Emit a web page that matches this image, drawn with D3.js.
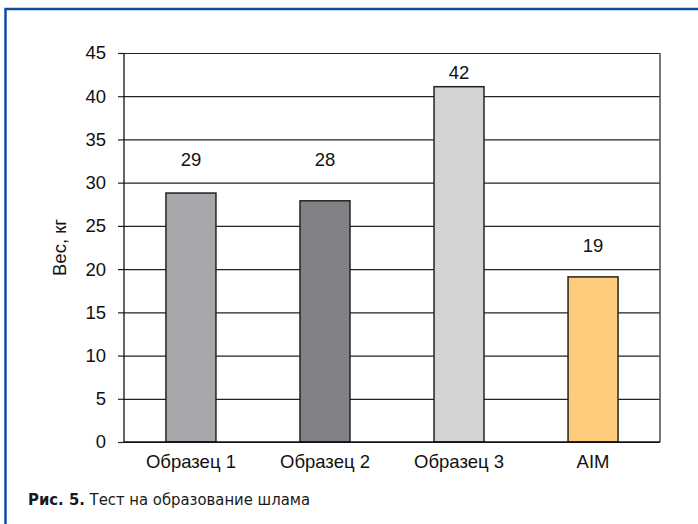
<!DOCTYPE html>
<html>
<head>
<meta charset="utf-8">
<script src="https://cdn.jsdelivr.net/npm/d3@7"></script>
<style>
  html, body { margin: 0; padding: 0; background: #fff; }
  svg { display: block; }
</style>
</head>
<body>
<div id="chart"></div>
<script>
/* bar chart: sludge formation test */
const CATEGORIES = ['Образец 1', 'Образец 2', 'Образец 3', 'AIM'];
const VALUES     = [28.8, 27.9, 41.1, 19.1];
const LABELS     = ['29', '28', '42', '19'];
const Y_TICKS    = [0, 5, 10, 15, 20, 25, 30, 35, 40, 45];
const COLORS     = ['#a7a8ab', '#808184', '#d2d3d5', '#fdcd7c'];

const W = 698, H = 524;
const M = { top: 53, right: 38, bottom: 82, left: 124 };
const FONT = "'Liberation Sans', Arial, sans-serif";
const FS   = '18.5px';

const svg = d3.select('#chart').append('svg').attr('width', W).attr('height', H);

/* frame (only top/left edges are visible in the crop) */
svg.append('rect')
  .attr('x', 5.5).attr('y', 9).attr('width', W + 20).attr('height', H + 20)
  .attr('fill', '#fff').attr('stroke', '#0b50a0').attr('stroke-width', 2.5);

const innerW = W - M.left - M.right;
const innerH = H - M.top - M.bottom;
const g = svg.append('g').attr('transform', `translate(${M.left},${M.top})`);

const x = d3.scaleBand().domain(CATEGORIES).range([0, innerW]).paddingInner(0.627).paddingOuter(0.313);
const y = d3.scaleLinear().domain([0, 45]).range([innerH, 0]);

/* gridlines */
g.append('g')
  .call(d3.axisLeft(y).tickValues(Y_TICKS).tickSize(-innerW).tickFormat(''))
  .call(ax => ax.select('.domain').remove())
  .call(ax => ax.selectAll('line').attr('stroke', '#222').attr('stroke-width', 1.2));

/* y ticks */
g.append('g')
  .call(d3.axisLeft(y).tickValues(Y_TICKS).tickSize(6).tickPadding(12))
  .call(ax => ax.select('.domain').remove())
  .call(ax => ax.selectAll('line').attr('stroke', '#222').attr('stroke-width', 1.2))
  .call(ax => ax.selectAll('text').attr('fill', '#111')
    .style('font-family', FONT).style('font-size', FS));

/* right edge */
g.append('line').attr('x1', innerW).attr('x2', innerW).attr('y1', 0).attr('y2', innerH)
  .attr('stroke', '#555').attr('stroke-width', 1.6);

/* bars */
g.selectAll('rect.bar').data(VALUES).join('rect')
  .attr('class', 'bar')
  .attr('x', (d, i) => x(CATEGORIES[i]))
  .attr('y', d => y(d))
  .attr('width', x.bandwidth())
  .attr('height', d => innerH - y(d))
  .attr('fill', (d, i) => COLORS[i])
  .attr('stroke', '#222').attr('stroke-width', 1.5);

/* axis lines */
g.append('line').attr('x1', 0).attr('x2', 0).attr('y1', 0).attr('y2', innerH)
  .attr('stroke', '#111').attr('stroke-width', 1.3);
g.append('line').attr('x1', 0).attr('x2', innerW).attr('y1', innerH).attr('y2', innerH)
  .attr('stroke', '#111').attr('stroke-width', 1.3);

/* value labels: centred in the grid band above the bar top */
g.selectAll('text.val').data(VALUES).join('text')
  .attr('class', 'val')
  .attr('x', (d, i) => x(CATEGORIES[i]) + x.bandwidth() / 2)
  .attr('y', d => y(Math.min(Math.ceil(d / 5) * 5 + 2.5, 42.5)) - 2)
  .attr('dy', '0.35em')
  .attr('text-anchor', 'middle')
  .style('font-family', FONT).style('font-size', FS).attr('fill', '#111')
  .text((d, i) => LABELS[i]);

/* x labels */
g.append('g').attr('transform', `translate(0,${innerH})`)
  .call(d3.axisBottom(x).tickSize(0).tickPadding(13))
  .call(ax => ax.select('.domain').remove())
  .call(ax => ax.selectAll('text').attr('fill', '#111')
    .style('font-family', FONT).style('font-size', FS));

/* y title */
g.append('text')
  .attr('transform', 'rotate(-90)')
  .attr('x', -innerH / 2).attr('y', -58)
  .attr('text-anchor', 'middle')
  .style('font-family', FONT).style('font-size', FS).attr('fill', '#111')
  .text('Вес, кг');

/* caption */
const cap = svg.append('text').attr('x', 28).attr('y', 505)
  .style('font-family', "'DejaVu Sans', sans-serif").style('font-size', '16.5px')
  .style('font-stretch', 'condensed').attr('fill', '#1a1a1a');
cap.append('tspan').style('font-weight', 'bold').text('Рис. 5.');
cap.append('tspan').text(' Тест на образование шлама');
</script>
</body>
</html>
